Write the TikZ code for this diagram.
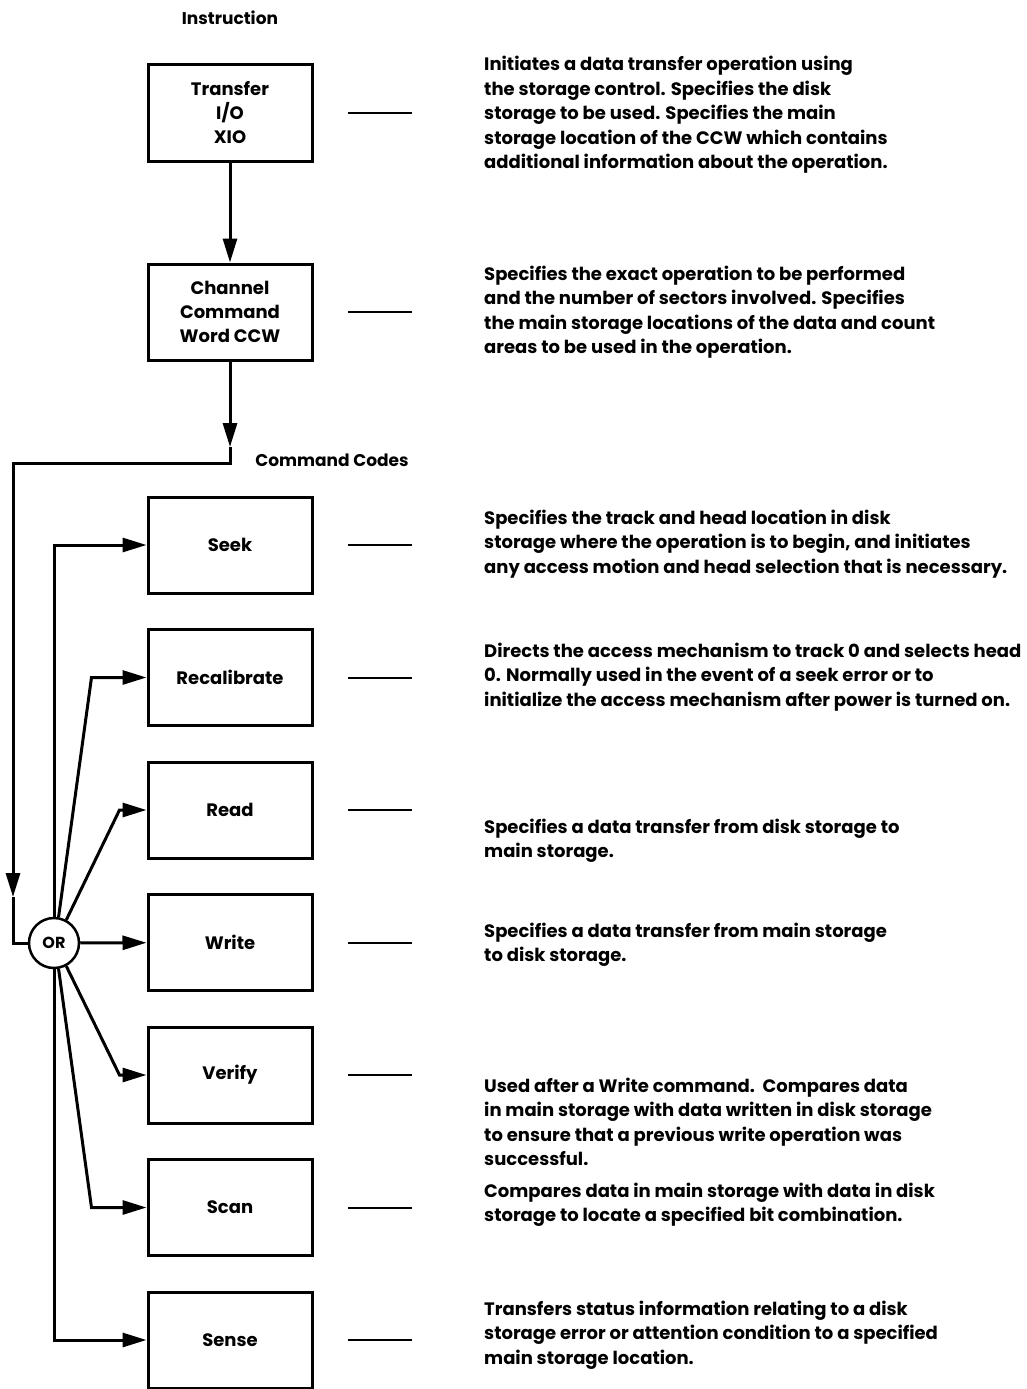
\documentclass[tikz,border=0pt]{standalone}
\usepackage{fontspec}
\setmainfont{Poppins}
\usepackage{tikz}
\usetikzlibrary{positioning, arrows.meta}

\begin{document}
\begin{tikzpicture}[
  x=1pt, y=-1pt,
  opbox/.style = {
    rectangle, draw=black, line width=3pt,
    align=center, inner sep=2pt,
    minimum width=164pt, minimum height=96pt,
    font=\fontsize{18}{24}\selectfont\bfseries},
  orgate/.style = {
    circle, draw=black, line width=2.5pt,
    minimum size=50pt, inner sep=0pt,
    font=\fontsize{16}{20}\selectfont\bfseries},
  desc/.style = {anchor=west, align=left, inner sep=0pt,
                 font=\fontsize{18}{24.5}\selectfont\bfseries},
  head/.style = {font=\fontsize{17}{20}\selectfont\bfseries},
  link/.style = {line width=3pt},
  arr/.style  = {-{Triangle[length=24pt,width=14pt]}, line width=3pt},
  tick/.style = {line width=2pt}
]
\useasboundingbox (0,0) rectangle (1026,1389);

%── Instruction ──────────────────────────────────────────────────
\node[head] (instr) at (230,18) {Instruction};

\node[opbox] (tio) at (230,113) {Transfer\\I/O\\XIO};
\node[opbox, below=100pt of tio.south, anchor=north] (ccw)
  {Channel\\Command\\Word CCW};

\draw[arr] (tio) -- (ccw);

%── Command codes ────────────────────────────────────────────────
\node[head] (codes) at (332,460) {Command Codes};

\node[opbox] (seek) at (230,545) {Seek};
\node[opbox, below=33.5pt of seek] (recal) {Recalibrate};
\node[opbox, below=33.5pt of recal] (read) {Read};
\node[opbox, below=33.5pt of read] (write) {Write};
\node[opbox, below=33.5pt of write] (verify) {Verify};
\node[opbox, below=33.5pt of verify] (scan) {Scan};
\node[opbox, below=33.5pt of scan] (sense) {Sense};

%── OR gate and feed line ────────────────────────────────────────
\node[orgate] (or) at (54,943) {OR};

\coordinate (ccwTip) at (230,447);
\coordinate (turn) at (230,463);
\coordinate (orTip) at (13,897);
\coordinate (orIn) at (13,943);

\draw[arr] (ccw) -- (ccwTip);
\draw[arr] (ccwTip) -- (turn) -| (orTip);
\draw[link] (orTip) -- (orIn) -- (or);

%── Fan out to the commands ──────────────────────────────────────
\draw[arr] (or.north) |- (seek.west);
\draw[arr] (or.80) -- ([xshift=-55pt]recal.west) -- (recal.west);
\draw[arr] (or.62) -- ([xshift=-27pt]read.west) -- (read.west);
\draw[arr] (or) -- (write);
\draw[arr] (or.-62) -- ([xshift=-27pt]verify.west) -- (verify.west);
\draw[arr] (or.-80) -- ([xshift=-55pt]scan.west) -- (scan.west);
\draw[arr] (or.south) |- (sense.west);

%── Dashes ───────────────────────────────────────────────────────
\draw[tick] ([xshift=34.5pt]tio.east) -- ++(64,0);
\draw[tick] ([xshift=34.5pt]ccw.east) -- ++(64,0);
\draw[tick] ([xshift=34.5pt]seek.east) -- ++(64,0);
\draw[tick] ([xshift=34.5pt]recal.east) -- ++(64,0);
\draw[tick] ([xshift=34.5pt]read.east) -- ++(64,0);
\draw[tick] ([xshift=34.5pt]write.east) -- ++(64,0);
\draw[tick] ([xshift=34.5pt]verify.east) -- ++(64,0);
\draw[tick] ([xshift=34.5pt]scan.east) -- ++(64,0);
\draw[tick] ([xshift=34.5pt]sense.east) -- ++(64,0);

%── Descriptions ─────────────────────────────────────────────────
\node[desc] (dTio) at (484,115)
  {Initiates a data transfer operation using\\
   the storage control. Specifies the disk\\
   storage to be used. Specifies the main\\
   storage location of the CCW which contains\\
   additional information about the operation.};

\node[desc] (dCcw) at (484,312)
  {Specifies the exact operation to be performed\\
   and the number of sectors involved. Specifies\\
   the main storage locations of the data and count\\
   areas to be used in the operation.};

\node[desc] (dSeek) at (484,544)
  {Specifies the track and head location in disk\\
   storage where the operation is to begin, and initiates\\
   any access motion and head selection that is necessary.};

\node[desc] (dRecal) at (484,677)
  {Directs the access mechanism to track 0 and selects head\\
   0. Normally used in the event of a seek error or to\\
   initialize the access mechanism after power is turned on.};

\node[desc] (dRead) at (484,841)
  {Specifies a data transfer from disk storage to\\
   main storage.};

\node[desc] (dWrite) at (484,945)
  {Specifies a data transfer from main storage\\
   to disk storage.};

\node[desc] (dVerify) at (484,1122)
  {Used after a Write command.\ \ Compares data\\
   in main storage with data written in disk storage\\
   to ensure that a previous write operation was\\
   successful.};

\node[desc] (dScan) at (484,1205)
  {Compares data in main storage with data in disk\\
   storage to locate a specified bit combination.};

\node[desc] (dSense) at (484,1335)
  {Transfers status information relating to a disk\\
   storage error or attention condition to a specified\\
   main storage location.};

\end{tikzpicture}
\end{document}
